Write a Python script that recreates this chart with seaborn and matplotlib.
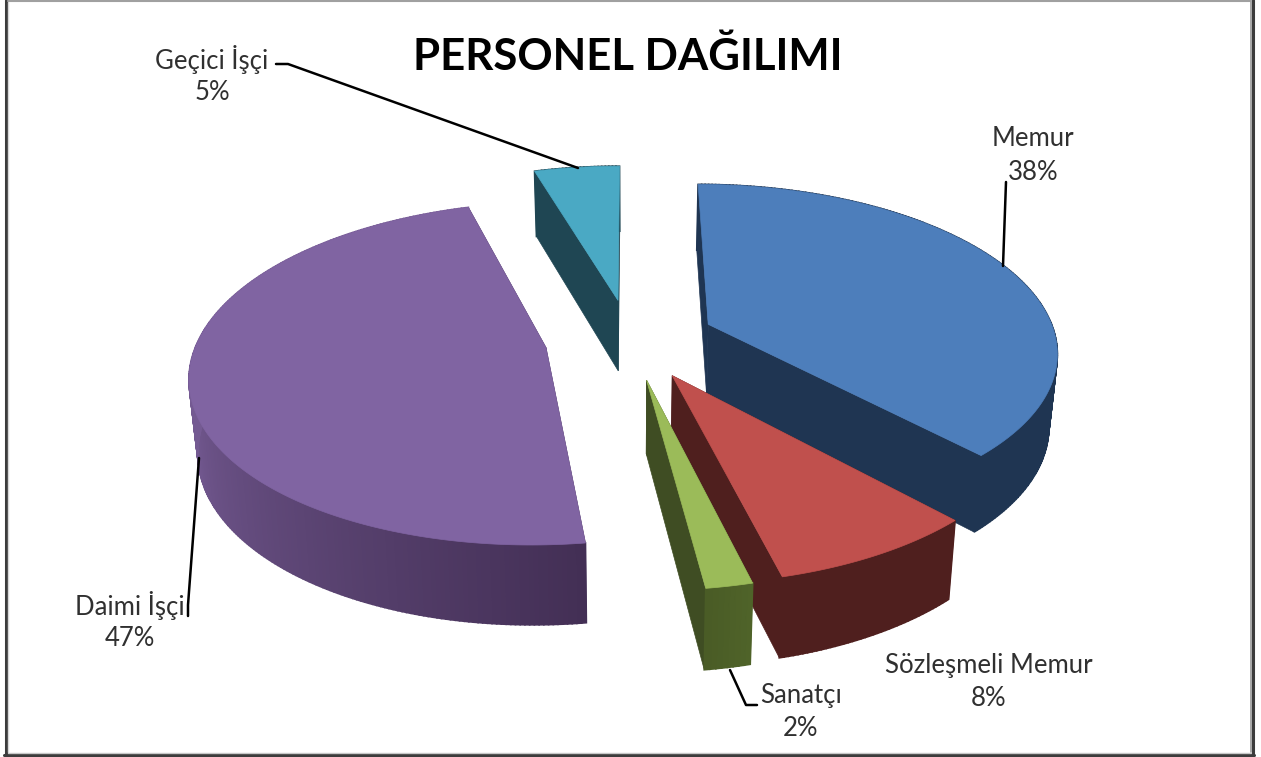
import numpy as np
import matplotlib
matplotlib.use("Agg")
import matplotlib.pyplot as plt
import seaborn as sns

# chart data
categories = ["Memur", "Sözleşmeli Memur", "Sanatçı", "Daimi İşçi", "Geçici İşçi"]
values = [38, 8.1, 1.8, 47.45, 4.65]
title_text = "PERSONEL DAĞILIMI"

# look of the slices
top_colors = ["#4d7ebb", "#c0504d", "#9bbb59", "#8064a2", "#4aa9c4"]
# wall colours from slice start angle to slice end angle
wall_stops = [
    ["#1f3552", "#1f3552"],
    ["#4f1f1e", "#4f1f1e"],
    ["#4f6329", "#4a5c26"],
    ["#432f55", "#745a92", "#785c96"],
    ["#1f4653", "#1f4653"],
]
face_colors = ["#1f3552", "#4f1f1e", "#3f4d23", "#432f55", "#1f4653"]

# fake 3D camera, in pixels
CX, CY = 630, 339
RX, RY = 348, 165
PERSP = 0.15
DEPTH = 72
EXPLODE = 0.245
START = 0.0

sns.set_theme(style="white")
plt.rcParams["font.family"] = ["Lato", "DejaVu Sans"]


def project(u, v, bottom=False):
    w = 1 / (1 - PERSP * v)
    x = CX + RX * u * w
    y = CY + RY * v * w
    if bottom:
        x = CX + (x - CX) * 0.98
        y = y + DEPTH * w ** 0.6
    return x, y


fig, ax = plt.subplots(figsize=(12.61, 7.57), dpi=100)
fig.subplots_adjust(0, 0, 1, 1)
ax.set_xlim(0, 1261)
ax.set_ylim(757, 0)
ax.axis("off")

# slice angles, clockwise from the back of the pie
shares = np.array(values) / sum(values) * 360
ends = START + np.cumsum(shares)
starts = ends - shares

# back to front
for i in [4, 0, 3, 1, 2]:
    a0, a1 = starts[i], ends[i]
    mid = np.radians((a0 + a1) / 2)
    u0, v0 = EXPLODE * np.sin(mid), -EXPLODE * np.cos(mid)
    th = np.radians(np.linspace(a0, a1, max(int(shares[i] * 1.5), 8)))
    u = u0 + np.sin(th)
    v = v0 - np.cos(th)

    xt, yt = project(u, v)
    xb, yb = project(u, v, bottom=True)
    xa, ya = project(u0, v0)
    xc, yc = project(u0, v0, bottom=True)

    # the two cut faces
    for j in [0, -1]:
        ax.fill([xa, xc, xb[j], xt[j]], [ya, yc, yb[j], yt[j]],
                color=face_colors[i], lw=0.5, zorder=1)

    # outer wall, in thin strips for the gradient
    shades = sns.blend_palette(wall_stops[i], len(th) - 1)
    for k in range(len(th) - 1):
        ax.fill([xt[k], xt[k + 1], xb[k + 1], xb[k]],
                [yt[k], yt[k + 1], yb[k + 1], yb[k]],
                color=shades[k], lw=1.2, zorder=1)

    # top
    ax.fill(np.r_[xa, xt], np.r_[ya, yt], color=top_colors[i], lw=0.5, zorder=1)

# leader lines
leaders = [
    ([1006, 1003], [182, 266]),
    ([730, 746, 757], [670, 705, 705]),
    ([199, 188, 188], [458, 605, 616]),
    ([276, 288, 578], [64, 64, 168]),
]
for lx, ly in leaders:
    ax.plot(lx, ly, color="black", lw=1.8, zorder=3, solid_joinstyle="round")

# labels
label_xy = [(1033, 139), (989, 666), (801, 696), (130, 606), (212, 59)]
for name, val, (lx, ly) in zip(categories, values, label_xy):
    ax.text(lx, ly, name, ha="center", va="center", fontsize=18.5, color="#303030", zorder=4)
    ax.text(lx, ly + 33, f"{val:.0f}%", ha="center", va="center", fontsize=18.5, color="#303030", zorder=4)

ax.text(628, 57, title_text, ha="center", va="center", fontsize=31.5, fontweight="bold",
        color="black", zorder=4)

# window frame
ax.plot([5.5, 5.5], [0, 755], color="#3c3c3c", lw=2.2, zorder=5)
ax.plot([8, 8], [2, 752], color="#d8d8d8", lw=1, zorder=5)
ax.plot([4, 1254], [754.5, 754.5], color="#3c3c3c", lw=2.2, zorder=5)
ax.plot([8, 1251], [752.5, 752.5], color="#c8c8c8", lw=1, zorder=5)
ax.plot([1252.5, 1252.5], [0, 755], color="#3c3c3c", lw=2.2, zorder=5)
ax.plot([1250.5, 1250.5], [0, 752], color="#9a9a9a", lw=1.2, zorder=5)
ax.plot([8, 1250], [0.8, 0.8], color="#a0a0a0", lw=1.5, zorder=5)

fig.savefig("out.png", dpi=100)
